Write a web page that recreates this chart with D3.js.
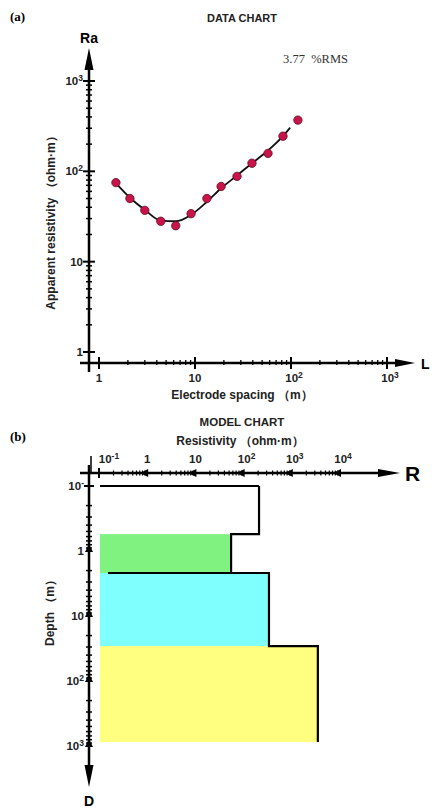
<!DOCTYPE html>
<html><head><meta charset="utf-8">
<script src="https://cdn.jsdelivr.net/npm/d3@7"></script>
<style>body{margin:0;background:#fff}svg{display:block}</style>
</head><body>
<script>
// ---- Data chart (a) ----
const spacing = [1.5, 2.1, 3.0, 4.4, 6.3, 9.1, 13.3, 18.7, 27.4, 39.2, 57.6, 82.5, 118];
const apparentRes = [75, 50, 37, 28, 25, 34, 50, 68, 88, 123, 158, 245, 369];
const fitSpacing = [1.5, 2.1, 3.0, 4.4, 6.3, 9.1, 13.3, 18.7, 27.4, 39.2, 57.6, 82.5, 98];
const fitRes = [74, 51, 37.5, 28.5, 28, 33, 46, 65, 90, 123, 170, 245, 305];
const xTicksA = [1, 10, 100, 1000];
const xTickLabelsA = ["1", "10", "10^2", "10^3"];
const yTicksA = [1, 10, 100, 1000];
const yTickLabelsA = ["1", "10", "10^2", "10^3"];
// ---- Model chart (b) ----
const layerRes = [209, 55, 336, 3470];
const layerTop = [0.1, 0.55, 2.18, 29];
const layerBottom = [0.55, 2.18, 29, 870];
const layerColors = ["none", "#80f280", "#80ffff", "#ffff80"];
const rTicks = [0.1, 1, 10, 100, 1000, 10000];
const rTickLabels = ["10^-1", "1", "10", "10^2", "10^3", "10^4"];
const dTicks = [0.1, 1, 10, 100, 1000];
const dTickLabels = ["10^-", "1", "10", "10^2", "10^3"];

const W = 436, H = 810;
const svg = d3.select("body").append("svg").attr("width", W).attr("height", H)
  .style("font-family", "Arial, 'Liberation Sans', sans-serif");

function minorTicks(lo, hi) {
  const out = [];
  for (let e = Math.floor(Math.log10(lo)); e < Math.ceil(Math.log10(hi)); e++) {
    for (let k = 2; k <= 9; k++) { const v = k * Math.pow(10, e); if (v > lo && v < hi) out.push(v); }
  }
  return out;
}
function powLabel(sel, label) {
  const [b, e] = label.split("^");
  sel.append("tspan").text(b);
  if (e !== undefined) sel.append("tspan").attr("dy", -4).attr("font-size", 8.5).text(e);
}

// ===== (a) =====
const xA = d3.scaleLog().domain([1, 1000]).range([99, 387]);
const yA = d3.scaleLog().domain([1, 1000]).range([352, 81]);
const axA = 89, ayA = 363;

svg.append("text").attr("x", 10).attr("y", 21).attr("font-family", "'Liberation Serif', serif")
  .attr("font-weight", "bold").attr("font-size", 13).text("(a)");
svg.append("text").attr("x", 242).attr("y", 22).attr("text-anchor", "middle")
  .attr("font-weight", "bold").attr("font-size", 11).attr("fill", "#222").text("DATA CHART");
svg.append("text").attr("x", 283).attr("y", 63).attr("font-family", "'Liberation Serif', serif")
  .attr("font-size", 12.5).attr("fill", "#333").style("white-space", "pre").text("3.77  %RMS");
svg.append("text").attr("x", 89).attr("y", 43).attr("text-anchor", "middle")
  .attr("font-weight", "bold").attr("font-size", 14).text("Ra");

// axes lines
svg.append("line").attr("x1", axA).attr("x2", axA).attr("y1", 372).attr("y2", 60)
  .attr("stroke", "#000").attr("stroke-width", 2.5);
svg.append("path").attr("d", `M${axA - 4.5},70 L${axA},48 L${axA + 4.5},70 Z`).attr("fill", "#000");
svg.append("line").attr("x1", 80).attr("x2", 405).attr("y1", ayA).attr("y2", ayA)
  .attr("stroke", "#000").attr("stroke-width", 2.5);
svg.append("path").attr("d", `M395,${ayA - 4} L415,${ayA} L395,${ayA + 4} Z`).attr("fill", "#000");
svg.append("text").attr("x", 421).attr("y", ayA + 6).attr("font-size", 14).attr("font-weight", "bold").text("L");

// y ticks
const gYA = svg.append("g");
yTicksA.forEach(v => {
  gYA.append("line").attr("x1", axA - 6).attr("x2", axA + 6).attr("y1", yA(v)).attr("y2", yA(v)).attr("stroke", "#000").attr("stroke-width", 2);
});
minorTicks(1, 1000).forEach(v => {
  gYA.append("line").attr("x1", axA - 3).attr("x2", axA + 3).attr("y1", yA(v)).attr("y2", yA(v)).attr("stroke", "#000").attr("stroke-width", 1.5);
});
yTicksA.forEach((v, i) => {
  const t = gYA.append("text").attr("x", axA - 6).attr("y", yA(v) + 4).attr("text-anchor", "end")
    .attr("font-size", 11.5).attr("font-weight", "bold").attr("fill", "#222");
  powLabel(t, yTickLabelsA[i]);
});
// x ticks
const gXA = svg.append("g");
xTicksA.forEach(v => {
  gXA.append("line").attr("x1", xA(v)).attr("x2", xA(v)).attr("y1", ayA - 6).attr("y2", ayA + 6).attr("stroke", "#000").attr("stroke-width", 2);
});
minorTicks(1, 1000).forEach(v => {
  gXA.append("line").attr("x1", xA(v)).attr("x2", xA(v)).attr("y1", ayA - 3).attr("y2", ayA + 2).attr("stroke", "#000").attr("stroke-width", 1.3);
});
xTicksA.forEach((v, i) => {
  const t = gXA.append("text").attr("x", xA(v) + (i > 1 ? 3 : 0)).attr("y", ayA + 19).attr("text-anchor", "middle")
    .attr("font-size", 11.5).attr("font-weight", "bold").attr("fill", "#222");
  powLabel(t, xTickLabelsA[i]);
});
svg.append("text").attr("x", 242).attr("y", 399).attr("text-anchor", "middle")
  .attr("font-size", 12).attr("font-weight", "bold").attr("fill", "#222").text("Electrode spacing （m）");
svg.append("text").attr("transform", "translate(55,220) rotate(-90)").attr("text-anchor", "middle")
  .attr("font-size", 12).attr("font-weight", "bold").attr("fill", "#222").text("Apparent resistivity （ohm·m）");

// fit line
const fitLine = d3.line().x(d => xA(d[0])).y(d => yA(d[1])).curve(d3.curveMonotoneX);
svg.append("path").datum(fitSpacing.map((s, i) => [s, fitRes[i]])).attr("d", fitLine)
  .attr("fill", "none").attr("stroke", "#111").attr("stroke-width", 1.8);
svg.append("g").selectAll("circle").data(spacing.map((s, i) => [s, apparentRes[i]])).join("circle")
  .attr("cx", d => xA(d[0])).attr("cy", d => yA(d[1])).attr("r", 4.2)
  .attr("fill", "#c8144a").attr("stroke", "#5a1020").attr("stroke-width", 0.8);

// ===== (b) =====
const xB = d3.scaleLog().domain([0.1, 10000]).range([99, 340]);
const yB = d3.scaleLog().domain([0.1, 1000]).range([486, 746]);
const axB = 89, ayB = 473;

svg.append("text").attr("x", 10).attr("y", 441).attr("font-family", "'Liberation Serif', serif")
  .attr("font-weight", "bold").attr("font-size", 13).text("(b)");
svg.append("text").attr("x", 242).attr("y", 426).attr("text-anchor", "middle")
  .attr("font-weight", "bold").attr("font-size", 11.5).attr("fill", "#222").text("MODEL CHART");
svg.append("text").attr("x", 240).attr("y", 445).attr("text-anchor", "middle")
  .attr("font-weight", "bold").attr("font-size", 12).attr("fill", "#222").text("Resistivity （ohm·m）");

// layers fill
layerRes.forEach((r, i) => {
  if (layerColors[i] === "none") return;
  svg.append("rect").attr("x", xB(0.1) + 1).attr("y", yB(layerTop[i]))
    .attr("width", xB(r) - xB(0.1) - 1).attr("height", yB(layerBottom[i]) - yB(layerTop[i]))
    .attr("fill", layerColors[i]);
});
// staircase model line
const steps = [];
layerRes.forEach((r, i) => { steps.push([r, layerTop[i]]); steps.push([r, layerBottom[i]]); });
const stair = d3.line().x(d => xB(d[0])).y(d => yB(d[1]));
svg.append("path").datum(steps).attr("d", stair).attr("fill", "none").attr("stroke", "#000").attr("stroke-width", 2.2);
// top boundaries of layer 1 and layer 3
svg.append("line").attr("x1", xB(0.1) + 1).attr("x2", xB(layerRes[0])).attr("y1", yB(layerTop[0])).attr("y2", yB(layerTop[0]))
  .attr("stroke", "#000").attr("stroke-width", 2);
svg.append("line").attr("x1", xB(0.1) + 9).attr("x2", xB(layerRes[2])).attr("y1", yB(layerTop[2])).attr("y2", yB(layerTop[2]))
  .attr("stroke", "#000").attr("stroke-width", 2);

// R axis
svg.append("line").attr("x1", 80).attr("x2", 390).attr("y1", ayB).attr("y2", ayB).attr("stroke", "#000").attr("stroke-width", 2.5);
svg.append("path").attr("d", `M378,${ayB - 4} L400,${ayB} L378,${ayB + 4} Z`).attr("fill", "#000");
svg.append("text").attr("x", 405).attr("y", ayB + 8).attr("font-size", 21).attr("font-weight", "bold").text("R");
minorTicks(0.1, 10000).forEach(v => {
  svg.append("line").attr("x1", xB(v)).attr("x2", xB(v)).attr("y1", ayB - 2.5).attr("y2", ayB + 2.5).attr("stroke", "#000").attr("stroke-width", 1.2);
});
rTicks.forEach((v, i) => {
  const x = xB(v);
  if (i === 0) {
    svg.append("line").attr("x1", x).attr("x2", x).attr("y1", ayB - 5).attr("y2", ayB + 5).attr("stroke", "#000").attr("stroke-width", 2);
  } else {
    svg.append("path").attr("d", `M${x - 7},${ayB} L${x + 1},${ayB - 4} L${x + 1},${ayB + 4} Z`).attr("fill", "#000");
  }
  const t = svg.append("text").attr("x", x + (i === 0 ? 10 : (i > 2 ? 3 : 0))).attr("y", ayB - 10).attr("text-anchor", "middle")
    .attr("font-size", 11.5).attr("font-weight", "bold").attr("fill", "#222");
  powLabel(t, rTickLabels[i]);
});
svg.append("line").attr("x1", 91).attr("x2", 91).attr("y1", ayB - 17).attr("y2", ayB).attr("stroke", "#000").attr("stroke-width", 1.5);

// Depth axis
svg.append("line").attr("x1", axB).attr("x2", axB).attr("y1", 465).attr("y2", 772).attr("stroke", "#000").attr("stroke-width", 2.5);
svg.append("path").attr("d", `M${axB - 4.5},765 L${axB},787 L${axB + 4.5},765 Z`).attr("fill", "#000");
svg.append("text").attr("x", axB).attr("y", 806).attr("text-anchor", "middle").attr("font-size", 14).attr("font-weight", "bold").text("D");
minorTicks(0.1, 1000).forEach(v => {
  svg.append("line").attr("x1", axB - 3).attr("x2", axB + 3).attr("y1", yB(v)).attr("y2", yB(v)).attr("stroke", "#000").attr("stroke-width", 1.5);
});
dTicks.forEach((v, i) => {
  const y = yB(v);
  if (i === 0) {
    svg.append("line").attr("x1", axB - 5).attr("x2", axB + 5).attr("y1", y).attr("y2", y).attr("stroke", "#000").attr("stroke-width", 2);
  } else {
    svg.append("path").attr("d", `M${axB},${y - 7} L${axB - 4},${y + 1} L${axB + 4},${y + 1} Z`).attr("fill", "#000");
  }
  const t = svg.append("text").attr("x", axB - 5).attr("y", y + 4).attr("text-anchor", "end")
    .attr("font-size", 11.5).attr("font-weight", "bold").attr("fill", "#222");
  powLabel(t, dTickLabels[i]);
});
svg.append("text").attr("transform", "translate(54,610) rotate(-90)").attr("text-anchor", "middle")
  .attr("font-size", 12).attr("font-weight", "bold").attr("fill", "#222").text("Depth （m）");
</script>
</body></html>
